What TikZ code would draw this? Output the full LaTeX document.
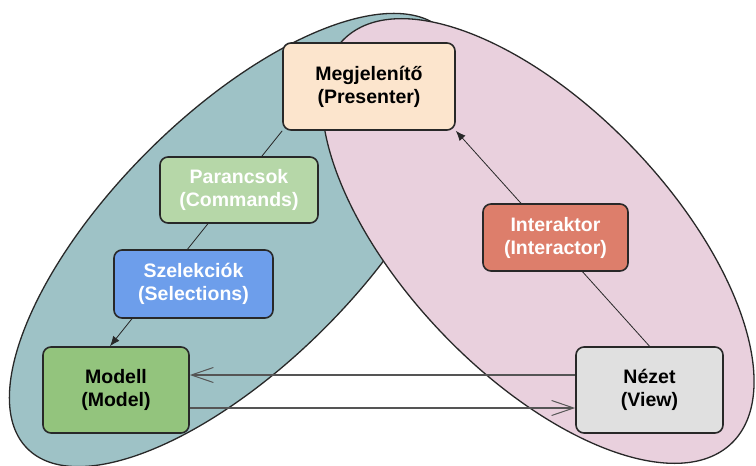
\documentclass[tikz,border=0pt]{standalone}
\usepackage{fontspec}
\setmainfont{Liberation Sans}
\usetikzlibrary{arrows.meta,calc}

\definecolor{tealfill}{RGB}{158,194,198}
\definecolor{pinkfill}{RGB}{233,208,221}
\definecolor{presfill}{RGB}{252,229,205}
\definecolor{cmdfill}{RGB}{182,215,168}
\definecolor{selfill}{RGB}{109,158,235}
\definecolor{modelfill}{RGB}{147,196,125}
\definecolor{interfill}{RGB}{221,126,107}
\definecolor{viewfill}{RGB}{224,224,224}
\definecolor{outline}{RGB}{40,40,40}
\definecolor{linkgray}{RGB}{85,85,85}

\pgfdeclarelayer{groups}
\pgfdeclarelayer{links}
\pgfsetlayers{groups,links,main}

\tikzset{
  box/.style={draw=outline, line width=1.6pt, rounded corners=8pt,
    align=center, inner sep=2pt,
    font=\fontsize{19.5}{23}\selectfont\bfseries},
  group/.style={draw=outline, line width=1.3pt},
  link/.style={draw=outline, line width=0.8pt},
  flow/.style={draw=linkgray, line width=1.5pt,
    -{Straight Barb[length=22pt,width=15pt,line width=1pt]}},
  tip/.style={-{Latex[length=10pt,width=8pt]}}
}

\begin{document}
\begin{tikzpicture}[x=1pt,y=-1pt]
  \useasboundingbox (0,0) rectangle (756,466);
  \clip (0,0) rectangle (756,466);

  % the two groupings
  \begin{pgfonlayer}{groups}
    \fill[white] (0,0) rectangle (756,466);
    \draw[group, fill=tealfill, rotate around={45:(236,240)}]
      (236,240) ellipse [x radius=295pt, y radius=125pt];
    \draw[group, fill=pinkfill, rotate around={-46.3:(538,241)}]
      (538,241) ellipse [x radius=280pt, y radius=133pt];
  \end{pgfonlayer}

  % components
  \node[box, fill=presfill, minimum width=172pt, minimum height=87pt]
    (pres) at (369,86.5) {Megjelenítő\\(Presenter)};
  \node[box, fill=cmdfill, text=white, minimum width=158pt, minimum height=66pt]
    (cmd) at (239,190) {Parancsok\\(Commands)};
  \node[box, fill=selfill, text=white, minimum width=159pt, minimum height=68pt]
    (sel) at (193.5,284) {Szelekciók\\(Selections)};
  \node[box, fill=modelfill, minimum width=146pt, minimum height=86pt]
    (model) at (116,390) {Modell\\(Model)};
  \node[box, fill=interfill, text=white, minimum width=145pt, minimum height=67pt]
    (inter) at (555.5,237.5) {Interaktor\\(Interactor)};
  \node[box, fill=viewfill, minimum width=147pt, minimum height=86pt]
    (view) at (649.5,390) {Nézet\\(View)};

  % connectors
  \begin{pgfonlayer}{links}
    \draw[link, tip] (pres.south west) -- ($(model.north)+(-6,0)$);
    \draw[link, tip] (view.north) -- (pres.south east);
    \draw[flow] ($(view.west)+(0,-15)$) -- ($(model.east)+(0,-15)$);
    \draw[flow] ($(model.east)+(0,18)$) -- ($(view.west)+(0,18)$);
  \end{pgfonlayer}
\end{tikzpicture}
\end{document}
